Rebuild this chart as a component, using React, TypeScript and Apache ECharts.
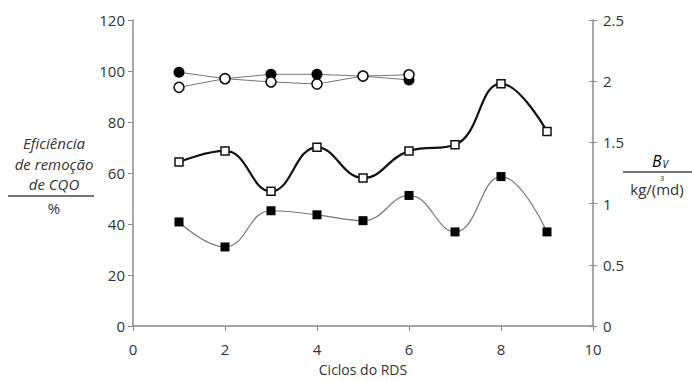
import React, { useEffect, useRef } from "react";
import * as echarts from "echarts";

const cycles = [1, 2, 3, 4, 5, 6, 7, 8, 9];
const effFilledCircle = [99.5, 97, 98.7, 98.7, 98, 96.5];
const effOpenCircle = [93.6, 97, 95.7, 94.9, 98, 98.5];
const bvOpenSquare = [1.34, 1.43, 1.1, 1.46, 1.21, 1.43, 1.48, 1.98, 1.59];
const effFilledSquare = [40.8, 31.0, 45.2, 43.6, 41.3, 51.2, 36.9, 58.6, 36.9];
const leftTicks = { min: 0, max: 120, interval: 20 };
const rightTicks = { min: 0, max: 2.5, interval: 0.5 };
const xTicks = { min: 0, max: 10, interval: 2 };

const FONT = "'Open Sans', sans-serif";
const TXT = "#333";
const AX = "#8a8a8a";

const pairs = (vals: number[]) => vals.map((v, i) => [cycles[i], v]);

export default function App() {
  const ref = useRef<HTMLDivElement>(null);
  useEffect(() => {
    document.body.style.margin = "0";
    const chart = echarts.init(ref.current!, null, { renderer: "svg" });
    const axisLabel = { color: TXT, fontSize: 15, fontFamily: FONT };
    chart.setOption({
      animation: false,
      backgroundColor: "#fff",
      grid: { left: 133, right: 99, top: 20, bottom: 53 },
      xAxis: {
        type: "value",
        ...xTicks,
        name: "Ciclos do RDS",
        nameLocation: "middle",
        nameGap: 36,
        nameTextStyle: { color: TXT, fontSize: 14, fontFamily: FONT },
        axisLine: { lineStyle: { color: AX, width: 1.5 } },
        axisTick: { show: true, length: 5, lineStyle: { color: AX } },
        axisLabel: { ...axisLabel, margin: 15 },
        splitLine: { show: false },
      },
      yAxis: [
        {
          type: "value",
          position: "left",
          ...leftTicks,
          axisLine: { show: true, lineStyle: { color: AX, width: 1.5 } },
          axisTick: { show: true, length: 5, lineStyle: { color: AX } },
          axisLabel: { ...axisLabel, margin: 8 },
          splitLine: { show: false },
        },
        {
          type: "value",
          position: "right",
          ...rightTicks,
          axisLine: { show: true, lineStyle: { color: AX, width: 1.5 } },
          axisTick: { show: true, length: 4, lineStyle: { color: AX } },
          axisLabel: { ...axisLabel, margin: 10 },
          splitLine: { show: false },
        },
        {
          type: "value",
          position: "right",
          ...rightTicks,
          axisLine: { show: false },
          axisTick: { show: true, inside: true, length: 4, lineStyle: { color: AX } },
          axisLabel: { show: false },
          splitLine: { show: false },
        },
      ],
      series: [
        {
          type: "line",
          yAxisIndex: 1,
          data: pairs(bvOpenSquare),
          smooth: 0.45,
          symbol: "rect",
          symbolSize: 8,
          lineStyle: { color: "#111", width: 2.2 },
          itemStyle: { color: "#fff", borderColor: "#111", borderWidth: 1.5 },
          z: 3,
        },
        {
          type: "line",
          yAxisIndex: 0,
          data: pairs(effFilledSquare),
          smooth: 0.45,
          symbol: "rect",
          symbolSize: 9,
          lineStyle: { color: "#777", width: 1.2 },
          itemStyle: { color: "#000", borderColor: "#000", borderWidth: 0 },
          z: 3,
        },
        {
          type: "line",
          yAxisIndex: 0,
          data: pairs(effFilledCircle),
          symbol: "circle",
          symbolSize: 11,
          lineStyle: { color: "#777", width: 1 },
          itemStyle: { color: "#000", borderColor: "#000", borderWidth: 0 },
          z: 3,
        },
        {
          type: "line",
          yAxisIndex: 0,
          data: pairs(effOpenCircle),
          symbol: "circle",
          symbolSize: 10,
          lineStyle: { color: "#777", width: 1 },
          itemStyle: { color: "#fff", borderColor: "#111", borderWidth: 1.6 },
          z: 4,
        },
      ],
      graphic: [
        {
          type: "text",
          x: 54,
          y: 143,
          style: { text: "Eficiência", font: `italic 15px ${FONT}`, fill: TXT, align: "center", verticalAlign: "middle" },
        },
        {
          type: "text",
          x: 54,
          y: 164,
          style: { text: "de remoção", font: `italic 15px ${FONT}`, fill: TXT, align: "center", verticalAlign: "middle" },
        },
        {
          type: "text",
          x: 54,
          y: 184,
          style: { text: "de CQO", font: `italic 15px ${FONT}`, fill: TXT, align: "center", verticalAlign: "middle" },
        },
        {
          type: "line",
          shape: { x1: 8, y1: 196, x2: 94, y2: 196 },
          style: { stroke: "#444", lineWidth: 1.5 },
        },
        {
          type: "text",
          x: 54,
          y: 208,
          style: { text: "%", font: `15px ${FONT}`, fill: TXT, align: "center", verticalAlign: "middle" },
        },
        {
          type: "text",
          x: 660,
          y: 161,
          style: {
            text: "{b|B}{s|V}",
            align: "center",
            verticalAlign: "middle",
            rich: {
              b: { fontStyle: "italic", fontSize: 16, fontFamily: FONT, color: TXT },
              s: { fontStyle: "italic", fontSize: 10, fontFamily: FONT, color: TXT, padding: [6, 0, 0, 1] },
            },
          },
        },
        {
          type: "line",
          shape: { x1: 623, y1: 172, x2: 692, y2: 172 },
          style: { stroke: "#444", lineWidth: 1.5 },
        },
        {
          type: "text",
          x: 657,
          y: 189,
          style: { text: "kg/(md)", font: `15px ${FONT}`, fill: TXT, align: "center", verticalAlign: "middle" },
        },
        {
          type: "text",
          x: 662,
          y: 177,
          style: { text: "3", font: `8px ${FONT}`, fill: TXT, align: "center", verticalAlign: "middle" },
        },
      ],
    });
    return () => chart.dispose();
  }, []);
  return <div ref={ref} style={{ width: 692, height: 381 }} />;
}
